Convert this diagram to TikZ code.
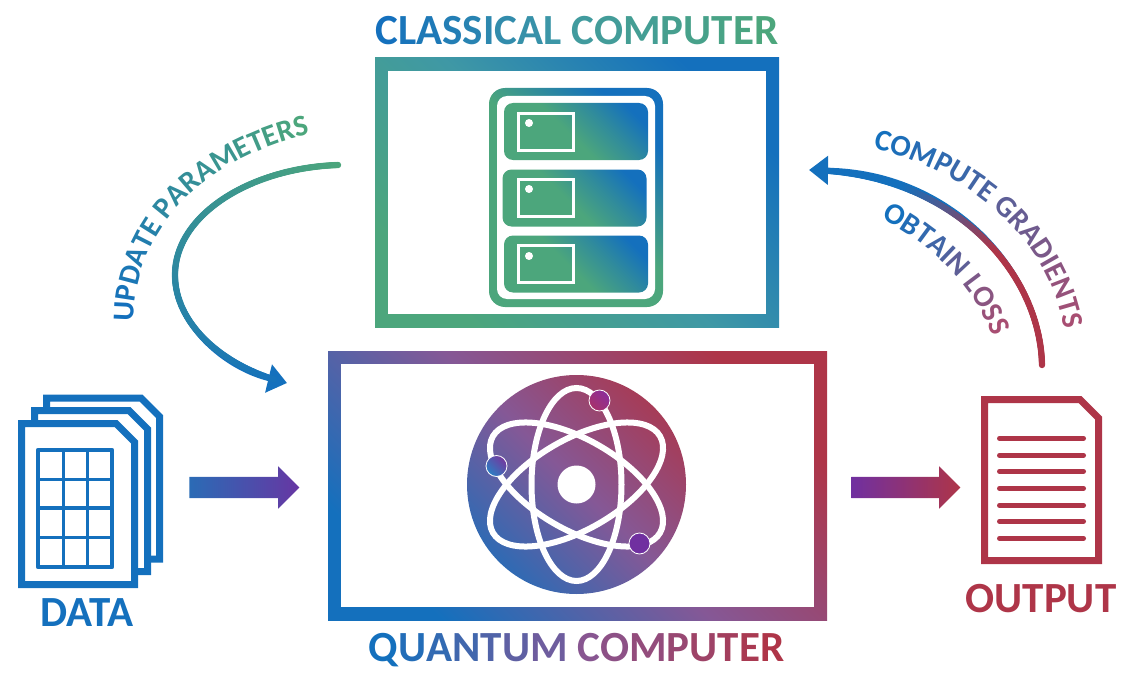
\documentclass[tikz,border=0pt]{standalone}
\usepackage{fontspec}
\setmainfont{Carlito}
\usetikzlibrary{shapes.arrows, arrows.meta, decorations.markings, decorations.text}

\definecolor{cblue}{HTML}{1470BD}
\definecolor{cgreen}{HTML}{4CA67C}
\definecolor{cred}{HTML}{AE3548}
\definecolor{cpurple}{HTML}{7030A0}
\definecolor{cmauve}{HTML}{A84E72}
\definecolor{cteal}{HTML}{3F98A5}
\definecolor{cplum}{HTML}{855896}
\definecolor{cslot}{HTML}{308B9C}
\definecolor{cmagenta}{HTML}{A8306A}
\definecolor{cviolet}{HTML}{8B2F9B}

\pgfdeclareverticalshading{greenfade}{100bp}{color(0bp)=(cgreen); color(25bp)=(cgreen); color(50bp)=(cteal); color(75bp)=(cblue); color(100bp)=(cblue)}
\pgfdeclareverticalshading{redfade}{100bp}{color(0bp)=(cblue); color(25bp)=(cblue); color(50bp)=(cplum); color(75bp)=(cred); color(100bp)=(cred)}
\pgfdeclareverticalshading{discfade}{100bp}{color(0bp)=(cblue); color(22bp)=(cblue!85!cplum); color(50bp)=(cplum); color(78bp)=(cred!90!cplum); color(100bp)=(cred)}
\pgfdeclareverticalshading{serverfade}{100bp}{color(0bp)=(cgreen); color(52bp)=(cgreen); color(63bp)=(cslot); color(74bp)=(cblue); color(100bp)=(cblue)}
\pgfdeclareverticalshading{slotfade}{100bp}{color(0bp)=(cgreen); color(47bp)=(cgreen); color(63bp)=(cslot); color(77bp)=(cblue); color(100bp)=(cblue)}

\newcommand{\fadetext}[5]{%
  \foreach \ch [count=\k] in {#5}{\pgfmathsetmacro\pct{200*(\k-1)/(#1-1)}%
    \ifdim\pct pt<100pt\textcolor{#3!\pct!#2}{\ch}\else\pgfmathsetmacro\pct{\pct-100}\textcolor{#4!\pct!#3}{\ch}\fi}}

\begin{document}
\begin{tikzpicture}[x=1pt, y=-1pt,
    box/.style={inner sep=0pt, outer sep=0pt, minimum width=#1},
    frameblue/.style={box=499pt, minimum height=269pt, shading=redfade, shading angle=-45},
    framegreen/.style={box=404pt, minimum height=269pt, shading=greenfade, shading angle=-45},
    hole/.style={inner sep=0pt, outer sep=0pt, fill=white},
    slotbox/.style={box=144pt, minimum height=57pt, rectangle, rounded corners=9pt, shading=slotfade, shading angle=-45},
    slotcard/.style={inner sep=0pt, outer sep=0pt, draw=white, line width=3pt, minimum width=55pt, minimum height=37pt},
    slotdot/.style={circle, fill=white, inner sep=0pt, minimum size=8pt},
    orbit/.style={draw=white, line width=6pt},
    electron/.style={circle, inner sep=0pt, minimum size=21pt, draw=white, line width=0.8pt},
    fatarrow/.style={single arrow, inner xsep=0pt, inner ysep=10.5pt, outer sep=0pt, minimum height=#1, single arrow head extend=10.5pt},
    docstroke/.style={draw=#1, line width=7pt, fill=white},
    title/.style={anchor=base, inner sep=0pt, font=\fontsize{43}{43}\selectfont\bfseries},
    curvetext/.style n args={3}{decorate, decoration={text effects along path, text={#1}, text align=fit to path,
        text effects/.cd, text along path, character count=\lc, character total=\lt,
        characters={font=\fontsize{30}{30}\selectfont\bfseries, /utils/exec={\pgfmathsetmacro\lp{100*(\lc-1)/(\lt-1)}}, text=#3!\lp!#2}}},
    fadestroke/.style n args={4}{line width=5pt, draw=#2, line cap=round,
        -{Triangle[length=19pt, width=28pt]},
        decoration={markings, mark=between positions 0 and -15pt step 1pt with {
            \pgfmathsetmacro\lp{100*(\pgfkeysvalueof{/pgf/decoration/mark info/distance from start}/\pgfdecoratedpathlength)}
            \pgfmathsetmacro\lp{min(100,max(0,(\lp-#3)/(#4-#3)*100))}
            \fill[#2!\lp!#1] (0,0) circle (3.2pt);}},
        postaction=decorate},
]
    \useasboundingbox (0,0) rectangle (1128,677);

    % classical computer
    \node[framegreen] (classical) at (577,192.5) {};
    \node[hole, minimum width=378pt, minimum height=243pt] (classicalhole) at (classical.center) {};
    \node[title] (classicaltitle) at (577,45) {\fadetext{18}{cblue}{cteal}{cgreen}{C,L,A,S,S,I,C,A,L,~,C,O,M,P,U,T,E,R}};

    \node[box=174pt, minimum height=219pt, rectangle, rounded corners=16pt, shading=serverfade, shading angle=-45] (server) at (576,197.5) {};
    \node[hole, rectangle, rounded corners=10pt, minimum width=158pt, minimum height=203pt] (serverhole) at (server.center) {};
    \node[slotbox] (slota) at (576,131.5) {};
    \node[slotbox] (slotb) at (574.5,198) {};
    \node[slotbox] (slotc) at (576,264) {};
    \node[slotcard] (carda) at (546,132) {};
    \node[slotcard] (cardb) at (546,198) {};
    \node[slotcard] (cardc) at (546,264) {};
    \node[slotdot] (dota) at (529,123) {};
    \node[slotdot] (dotb) at (529,189) {};
    \node[slotdot] (dotc) at (529,256) {};

    % quantum computer
    \node[frameblue] (quantum) at (577.5,485.5) {};
    \node[hole, minimum width=473pt, minimum height=243pt] (quantumhole) at (quantum.center) {};
    \node[title] (quantumtitle) at (576.5,661) {\fadetext{16}{cblue}{cplum}{cred}{Q,U,A,N,T,U,M,~,C,O,M,P,U,T,E,R}};

    \node[circle, inner sep=0pt, minimum size=219pt, shading=discfade, shading angle=-45] (atom) at (576.5,484.5) {};
    \foreach \tilt in {30,90,150}
        \draw[orbit, rotate around={\tilt:(atom.center)}] (atom.center) ellipse [x radius=96.5, y radius=45];
    \node[circle, fill=white, inner sep=0pt, minimum size=38pt] (nucleus) at (atom.center) {};
    \node[electron, bottom color=cmagenta, top color=cviolet, shading angle=-45] (electrona) at (599.5,400.5) {};
    \node[electron, bottom color=cblue!90!white, top color=cpurple!80!cplum, shading angle=-45] (electronb) at (496.5,466) {};
    \node[electron, fill=cpurple] (electronc) at (639.5,543.5) {};

    % data stack
    \foreach \dx/\dy in {25/-25.5,13/-13,0/0}
        \draw[docstroke=cblue, shift={(\dx,\dy)}] (21.5,423.5) -- (116,423.5) -- (134.5,442) -- (134.5,584.5) -- (21.5,584.5) -- cycle;
    \draw[draw=cblue, line width=3.5pt, line join=round] (37.8,449.8) rectangle (112.2,567.2);
    \foreach \colx in {63.5,87.5}
        \draw[cblue, line width=3.5pt] (\colx,449.8) -- (\colx,567.2);
    \foreach \rowy in {479.5,508,537.5}
        \draw[cblue, line width=3.5pt] (37.8,\rowy) -- (112.2,\rowy);
    \node[title, text=cblue] (datatitle) at (87,626) {DATA};

    % output page
    \draw[docstroke=cred] (984.5,399.5) -- (1080,399.5) -- (1098.5,418) -- (1098.5,560.5) -- (984.5,560.5) -- cycle;
    \foreach \liney in {438.3,455.3,471.3,488.3,505.3,521.3,538.3}
        \draw[cred, line width=5pt, line cap=round] (999.5,\liney) -- (1083.5,\liney);
    \node[title, text=cred] (outputtitle) at (1041,612) {OUTPUT};

    % block arrows
    \node[fatarrow=110pt, left color=cblue!80!cplum, right color=cpurple!90!cblue, shading angle=90] (dataarrow) at (239,487.5) {};
    \node[fatarrow=109pt, left color=cpurple, right color=cred, shading angle=90] (outputarrow) at (900.5,487.5) {};

    % curved arrows
    \coordinate (updatestart) at (338,165);
    \coordinate (updatemid) at (175,275);
    \coordinate (updateend) at (287,383);
    \coordinate (gradstart) at (1042,365);
    \coordinate (gradend) at (809,170);
    \draw[fadestroke={cgreen}{cblue}{0}{100}] (updatestart) .. controls (250,168) and (175,215) .. (updatemid) .. controls (175,325) and (225,368) .. (updateend);
    \draw[fadestroke={cred}{cblue}{38}{72}] (gradstart) .. controls (1040,270) and (950,172) .. (gradend);

    % curved labels
    \path[curvetext={UPDATE PARAMETERS}{cblue}{cgreen}] (134,322) .. controls (133,240) and (190,165) .. (306,135);
    \path[curvetext={COMPUTE GRADIENTS}{cblue}{cmauve}] (873,149) .. controls (950,165) and (1045,225) .. (1064,326);
    \path[curvetext={OBTAIN LOSS}{cblue}{cmauve}] (881,219) .. controls (925,240) and (970,280) .. (990,330);
\end{tikzpicture}
\end{document}
